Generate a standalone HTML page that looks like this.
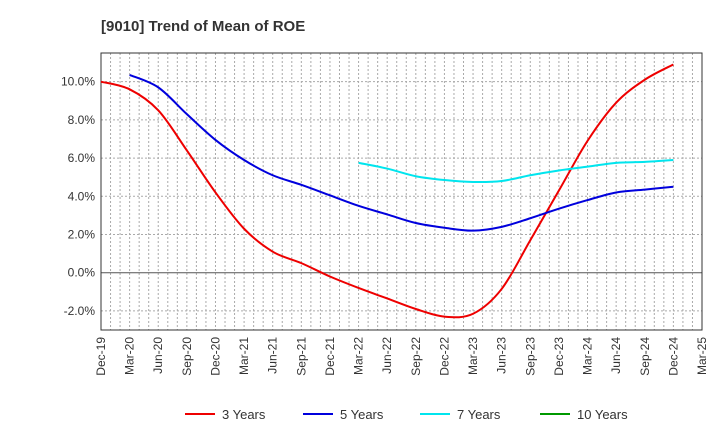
<!DOCTYPE html>
<html><head><meta charset="utf-8"><style>
body{margin:0;background:#fff;font-family:"Liberation Sans",sans-serif;}
</style></head><body>
<svg id="chart" width="720" height="440" xmlns="http://www.w3.org/2000/svg">
<text x="101" y="31" font-size="15" font-weight="bold" fill="#333">[9010]  Trend of Mean of ROE</text>
<g id="grid"></g><g id="axes"></g><g id="series"></g><g id="legend"></g>
</svg>
<script>
const xLabels=["Dec-19","Mar-20","Jun-20","Sep-20","Dec-20","Mar-21","Jun-21","Sep-21","Dec-21","Mar-22","Jun-22","Sep-22","Dec-22","Mar-23","Jun-23","Sep-23","Dec-23","Mar-24","Jun-24","Sep-24","Dec-24","Mar-25"];
const yTicks=[-2,0,2,4,6,8,10];
const seriesNames=["3 Years","5 Years","7 Years","10 Years"];
const seriesColors=["#ee0000","#0000dd","#00e5ee","#009900"];
const s3=[10.0,9.6,8.5,6.4,4.2,2.3,1.1,0.5,-0.2,-0.8,-1.35,-1.9,-2.3,-2.15,-0.85,1.7,4.3,6.9,8.9,10.1,10.9];
const s5=[null,10.35,9.7,8.3,6.95,5.9,5.1,4.6,4.05,3.5,3.05,2.6,2.35,2.2,2.4,2.85,3.35,3.8,4.2,4.35,4.5];
const s7=[null,null,null,null,null,null,null,null,null,5.75,5.45,5.05,4.85,4.75,4.8,5.1,5.35,5.55,5.75,5.8,5.9];
const s10=[];
const L=101,R=702,T=53,B=330,yMin=-3,yMax=11.5;
const NS="http://www.w3.org/2000/svg";
const xq=i=>L+(R-L)*i/(xLabels.length-1);
const y=v=>B-(v-yMin)/(yMax-yMin)*(B-T);
function mk(tag,attrs,parent){const e=document.createElementNS(NS,tag);for(const k in attrs)e.setAttribute(k,attrs[k]);parent.appendChild(e);return e;}
const grid=document.getElementById('grid'),axes=document.getElementById('axes'),ser=document.getElementById('series'),leg=document.getElementById('legend');
for(let m=1;m<(xLabels.length-1)*3;m++){const x=L+(R-L)*m/((xLabels.length-1)*3);
const g=mk('line',{x1:x,x2:x,y1:T,y2:B,stroke:'#aaa','stroke-dasharray':'2,2','stroke-width':1},grid);

}
yTicks.forEach(v=>{const l=mk('line',{x1:L,x2:R,y1:y(v),y2:y(v),stroke:v===0?'#555':'#aaa','stroke-dasharray':v===0?'':'2,2','stroke-width':1},grid);


const t=mk('text',{x:L-6,y:y(v)+4,'text-anchor':'end','font-size':12,fill:'#333'},axes);t.textContent=v.toFixed(1)+'%';

});
const fr=mk('rect',{x:L,y:T,width:R-L,height:B-T,fill:'none',stroke:'#333','stroke-width':1},axes);


xLabels.forEach((s,i)=>{const x=xq(i);const t=mk('text',{x:0,y:0,transform:`translate(${x+4},${B+7}) rotate(-90)`,'text-anchor':'end','font-size':12,fill:'#333'},axes);t.textContent=s;

});
function path(data){const pts=[];data.forEach((v,i)=>{if(v!=null)pts.push([xq(i),y(v)]);});if(pts.length<2)return '';
let d=`M${pts[0][0]},${pts[0][1]}`;for(let i=0;i<pts.length-1;i++){const p0=pts[i-1]||pts[i],p1=pts[i],p2=pts[i+1],p3=pts[i+2]||p2;
d+=` C${p1[0]+(p2[0]-p0[0])/6},${p1[1]+(p2[1]-p0[1])/6} ${p2[0]-(p3[0]-p1[0])/6},${p2[1]-(p3[1]-p1[1])/6} ${p2[0]},${p2[1]}`;}return d;}
[s3,s5,s7,s10].forEach((d,k)=>{const p=path(d);if(!p)return;const e=mk('path',{d:p,fill:'none',stroke:seriesColors[k],'stroke-width':2},ser);

});
const lx=[185,303,420,540];
seriesNames.forEach((n,k)=>{const l=mk('line',{x1:lx[k],x2:lx[k]+30,y1:414,y2:414,stroke:seriesColors[k],'stroke-width':2},leg);


const t=mk('text',{x:lx[k]+37,y:419,'font-size':13,fill:'#333'},leg);t.textContent=n;

});
</script>
</body></html>
